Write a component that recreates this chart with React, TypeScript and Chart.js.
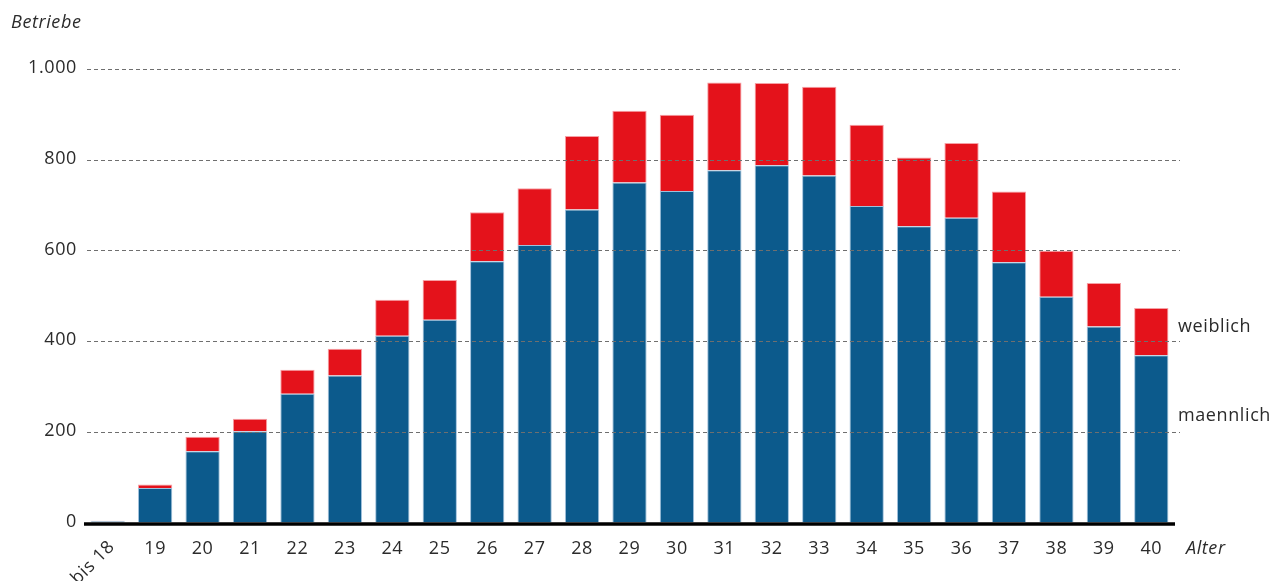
import React, { useEffect, useRef } from "react";
import { Chart, registerables } from "chart.js";

Chart.register(...registerables);

const categories = ["bis 18", "19", "20", "21", "22", "23", "24", "25", "26", "27", "28", "29", "30", "31", "32", "33", "34", "35", "36", "37", "38", "39", "40"];
const maennlich = [3, 76, 157, 201, 284, 324, 412, 447, 576, 612, 690, 750, 731, 777, 788, 765, 698, 653, 672, 574, 498, 432, 369];
const weiblich = [1, 8, 32, 28, 53, 59, 79, 88, 108, 125, 162, 158, 168, 193, 181, 196, 179, 152, 165, 156, 101, 96, 104];
const yTicks = [0, 200, 400, 600, 800, 1000];
const seriesNames = ["maennlich", "weiblich"];
const yTitle = "Betriebe";
const xTitle = "Alter";

const FONT = "'Open Sans', Lato, sans-serif";
const TEXT = "#2b2b2b";
const BLUE = "#0c5a8c";
const RED = "#e4121b";

function fmt(v: number): string {
  return String(v).replace(/\B(?=(\d{3})+(?!\d))/g, ".");
}

const overlay = {
  id: "overlay",
  afterDatasetsDraw(chart: any) {
    const { ctx, scales } = chart;
    const x = scales.x;
    const y = scales.y;
    ctx.save();
    // dashed gridlines drawn over the bars
    ctx.strokeStyle = "#6f6f6f";
    ctx.lineWidth = 1;
    ctx.setLineDash([4, 3]);
    yTicks.forEach((v) => {
      if (v === 0) return;
      const py = Math.round(y.getPixelForValue(v)) + 0.5;
      ctx.beginPath();
      ctx.moveTo(x.left + 3, py);
      ctx.lineTo(x.right + 5, py);
      ctx.stroke();
    });
    ctx.setLineDash([]);
    // baseline
    const by = y.getPixelForValue(0) + 1.5;
    ctx.strokeStyle = "#000";
    ctx.lineWidth = 3.5;
    ctx.beginPath();
    ctx.moveTo(x.left, by);
    ctx.lineTo(x.right, by);
    ctx.stroke();

    ctx.fillStyle = TEXT;
    ctx.textBaseline = "middle";
    (ctx as any).letterSpacing = "0.6px";
    ctx.font = `18px ${FONT}`;

    // y tick labels
    ctx.textAlign = "right";
    yTicks.forEach((v) => {
      ctx.fillText(fmt(v), x.left - 7, y.getPixelForValue(v) - 1);
    });

    // x labels
    const ly = by + 25;
    categories.forEach((c, i) => {
      const px = x.getPixelForValue(i);
      if (i === 0) {
        ctx.save();
        ctx.translate(px + 4, ly - 5);
        ctx.rotate(-Math.PI / 4);
        ctx.textAlign = "right";
        ctx.fillText(c, 0, 0);
        ctx.restore();
      } else {
        ctx.textAlign = "center";
        ctx.fillText(c, px, ly);
      }
    });
    // axis titles
    ctx.font = `italic 18px ${FONT}`;
    ctx.textAlign = "left";
    ctx.fillText(xTitle, x.right + 11, ly);
    ctx.fillText(yTitle, 11, 23);
    // series labels
    ctx.font = `18px ${FONT}`;
    ctx.fillText(seriesNames[1], x.right + 3, y.getPixelForValue(432));
    ctx.fillText(seriesNames[0], x.right + 3, y.getPixelForValue(235));
    ctx.restore();
  },
};

export default function App() {
  const ref = useRef<HTMLCanvasElement | null>(null);
  useEffect(() => {
    document.body.style.margin = "0";
    if (!ref.current) return;
    const chart = new Chart(ref.current, {
      type: "bar",
      data: {
        labels: categories,
        datasets: [
          {
            label: seriesNames[0],
            data: maennlich,
            backgroundColor: BLUE,
            borderColor: "rgba(150,185,215,0.9)",
            borderWidth: 1,
            barPercentage: 0.723,
            categoryPercentage: 1,
          },
          {
            label: seriesNames[1],
            data: weiblich,
            backgroundColor: RED,
            borderColor: "rgba(245,150,155,0.9)",
            borderWidth: 1,
            barPercentage: 0.723,
            categoryPercentage: 1,
          },
        ],
      },
      options: {
        animation: false,
        responsive: true,
        maintainAspectRatio: false,
        layout: { padding: { top: 69, bottom: 58.5, left: 84, right: 98 } },
        plugins: { legend: { display: false }, tooltip: { enabled: false } },
        scales: {
          x: {
            stacked: true,
            grid: { display: false, drawTicks: false },
            border: { display: false },
            ticks: { display: false },
            afterFit: (s: any) => {
              s.height = 0;
            },
          },
          y: {
            stacked: true,
            min: 0,
            max: 1000,
            grid: { display: false, drawTicks: false },
            border: { display: false },
            ticks: { display: false, stepSize: 200 },
            afterFit: (s: any) => {
              s.width = 0;
            },
          },
        },
      },
      plugins: [overlay],
    });
    return () => chart.destroy();
  }, []);
  return (
    <div style={{ position: "absolute", left: 0, top: 0, width: 1273, height: 581 }}>
      <canvas ref={ref} />
    </div>
  );
}
